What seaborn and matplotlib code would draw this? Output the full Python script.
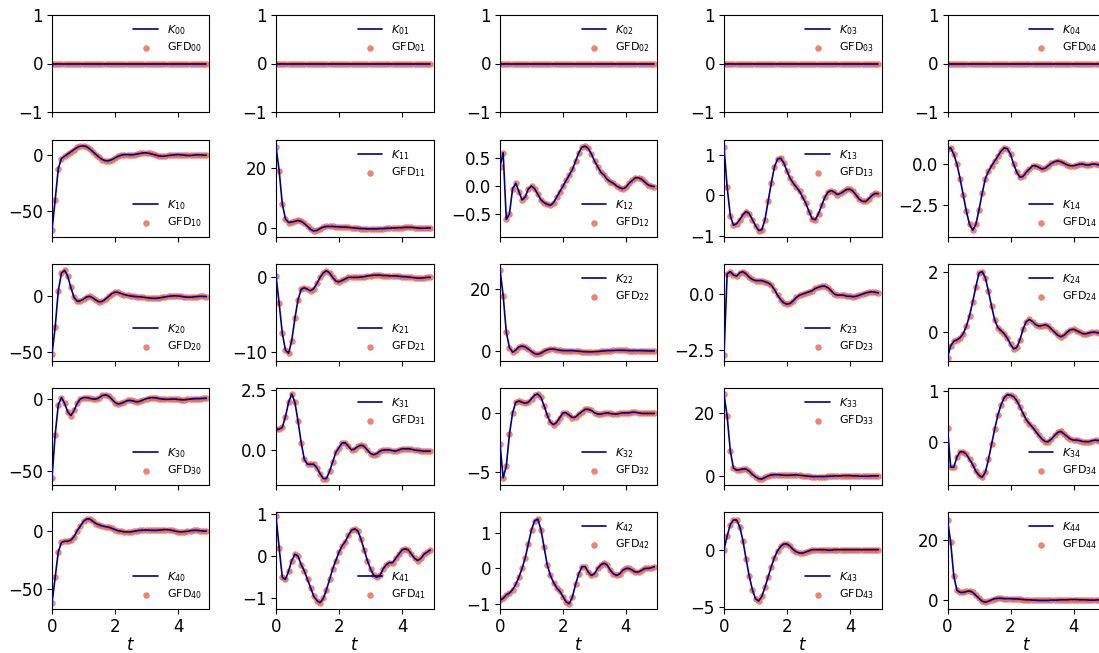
import matplotlib
matplotlib.use("Agg")
import matplotlib.pyplot as plt
import seaborn as sns

sns.set_style("ticks")
plt.rcParams['font.family'] = ['DejaVu Sans']
plt.rcParams['mathtext.fontset'] = 'dejavusans'
plt.rcParams['xtick.labelsize'] = 12
plt.rcParams['ytick.labelsize'] = 12
plt.rcParams['axes.edgecolor'] = 'black'
plt.rcParams['xtick.color'] = 'black'
plt.rcParams['ytick.color'] = 'black'
plt.rcParams['text.color'] = 'black'
plt.rcParams['axes.labelcolor'] = 'black'
plt.rcParams['xtick.major.size'] = 3.5
plt.rcParams['ytick.major.size'] = 3.5
plt.rcParams['xtick.major.pad'] = 3
plt.rcParams['ytick.major.pad'] = 3

# time grid of the GFD samples
t = [0.0, 0.1, 0.2, 0.3, 0.4, 0.5, 0.6, 0.7, 0.8, 0.9,
     1.0, 1.1, 1.2, 1.3, 1.4, 1.5, 1.6, 1.7, 1.8, 1.9,
     2.0, 2.1, 2.2, 2.3, 2.4, 2.5, 2.6, 2.7, 2.8, 2.9,
     3.0, 3.1, 3.2, 3.3, 3.4, 3.5, 3.6, 3.7, 3.8, 3.9,
     4.0, 4.1, 4.2, 4.3, 4.4, 4.5, 4.6, 4.7, 4.8, 4.9]

# first row of the kernel is identically zero
k0x = [0.0, 0.0, 0.0, 0.0, 0.0, 0.0, 0.0, 0.0, 0.0, 0.0,
       0.0, 0.0, 0.0, 0.0, 0.0, 0.0, 0.0, 0.0, 0.0, 0.0,
       0.0, 0.0, 0.0, 0.0, 0.0, 0.0, 0.0, 0.0, 0.0, 0.0,
       0.0, 0.0, 0.0, 0.0, 0.0, 0.0, 0.0, 0.0, 0.0, 0.0,
       0.0, 0.0, 0.0, 0.0, 0.0, 0.0, 0.0, 0.0, 0.0, 0.0]

k10 = [-67, -40, -12, -3, -1, 1, 3, 5, 7, 8,
       8.3, 7.5, 5.5, 3, 0.5, -2, -4, -5, -5, -4,
       -2.5, -1, 0, 0.5, 0.5, 0.3, 0.5, 1, 1.5, 2,
       2, 1.5, 0.8, 0, -0.8, -1, -0.8, -0.3, 0, 0.3,
       0.5, 0.3, 0, -0.3, -0.3, 0, 0.3, 0.3, 0, 0]
k11 = [27, 19, 8, 3, 1.8, 2, 2.2, 2.5, 2.2, 1.5,
       0.5, -0.5, -1.0, -0.8, -0.2, 0.3, 0.5, 0.5, 0.5, 0.4,
       0.4, 0.3, 0.3, 0.2, 0.1, 0.0, -0.1, -0.2, -0.2, -0.3,
       -0.3, -0.3, -0.3, -0.2, -0.2, -0.1, -0.1, 0.0, 0.0, 0.1,
       0.1, 0.2, 0.2, 0.2, 0.1, 0.0, -0.1, -0.1, 0.0, 0.0]
k12 = [0.35, 0.6, -0.6, -0.5, -0.05, 0.05, -0.1, -0.25, -0.2, -0.05,
       0.0, -0.05, -0.15, -0.25, -0.3, -0.33, -0.35, -0.3, -0.2, -0.1,
       0.0, 0.1, 0.2, 0.3, 0.45, 0.6, 0.7, 0.72, 0.68, 0.58,
       0.45, 0.35, 0.25, 0.2, 0.12, 0.08, 0.05, 0.0, -0.03, -0.05,
       -0.02, 0.05, 0.1, 0.15, 0.15, 0.12, 0.07, 0.02, 0.0, -0.01]
k13 = [1.2, 0.2, -0.5, -0.74, -0.7, -0.6, -0.48, -0.4, -0.45, -0.6,
       -0.75, -0.87, -0.85, -0.6, -0.15, 0.3, 0.7, 0.9, 0.92, 0.8,
       0.6, 0.42, 0.3, 0.2, 0.1, -0.05, -0.2, -0.4, -0.58, -0.6,
       -0.45, -0.25, -0.05, 0.08, 0.12, 0.08, 0.02, 0.05, 0.1, 0.15,
       0.15, 0.1, 0.0, -0.1, -0.15, -0.15, -0.08, 0.0, 0.05, 0.04]
k14 = [0.9, 1.0, 0.6, 0.0, -0.9, -1.9, -2.9, -3.7, -4.05, -3.7,
       -2.8, -1.8, -0.9, -0.45, -0.1, 0.2, 0.5, 0.8, 1.0, 0.95,
       0.6, 0.0, -0.5, -0.8, -0.75, -0.5, -0.3, -0.1, -0.1, -0.2,
       -0.3, -0.25, -0.1, 0.05, 0.15, 0.2, 0.15, 0.05, -0.05, -0.1,
       -0.1, -0.05, 0.0, 0.0, -0.05, -0.05, 0.0, 0.0, -0.05, -0.05]

k20 = [-52, -28, 5, 21, 23.5, 18, 8, -1, -4.5, -4,
       -2.5, -0.5, 0, -1.5, -3.5, -5, -4.5, -2.5, 0, 2.5,
       3.8, 3.5, 2.5, 1.5, 0.8, 0.3, 0, -0.3, -0.5, -0.8,
       -1.2, -1.5, -1.8, -1.8, -1.5, -1, -0.5, 0, 0.3, 0.5,
       0.3, 0, -0.5, -0.8, -0.8, -0.5, -0.2, 0, 0, -0.3]
k21 = [0.2, -3.5, -7.5, -9.8, -10.2, -8.5, -5.5, -3, -1.6, -1.4,
       -1.6, -1.8, -1.5, -0.8, 0.0, 0.6, 0.9, 0.6, 0.0, -0.5,
       -0.6, -0.4, -0.2, 0.0, 0.0, 0.0, 0.0, 0.05, 0.1, 0.2,
       0.25, 0.3, 0.3, 0.3, 0.25, 0.25, 0.2, 0.2, 0.2, 0.15,
       0.1, 0.1, 0.05, 0.0, -0.05, -0.1, -0.1, -0.05, 0.0, 0.0]
k22 = [26.5, 18, 6, 1, -0.5, 0.2, 1.2, 1.5, 1.2, 0.5,
       -0.3, -1, -1.2, -0.8, -0.2, 0.3, 0.5, 0.5, 0.3, 0.1,
       0.0, 0.0, 0.0, 0.0, -0.1, -0.2, -0.3, -0.35, -0.4, -0.4,
       -0.35, -0.3, -0.2, -0.1, 0.0, 0.0, 0.05, 0.1, 0.1, 0.1,
       0.05, 0.0, 0.0, 0.0, 0.0, 0.0, -0.05, -0.1, -0.1, -0.1]
k23 = [-2.7, 0.9, 1.0, 0.85, 0.8, 0.95, 1.0, 0.9, 0.75, 0.65,
       0.6, 0.6, 0.6, 0.55, 0.5, 0.4, 0.2, -0.05, -0.25, -0.4,
       -0.45, -0.42, -0.3, -0.15, -0.05, 0.0, 0.05, 0.1, 0.15, 0.25,
       0.3, 0.35, 0.35, 0.28, 0.15, 0.0, -0.05, -0.05, -0.05, -0.1,
       -0.1, -0.12, -0.1, -0.05, 0.0, 0.05, 0.08, 0.1, 0.08, 0.05]
k24 = [-0.85, -0.45, -0.3, -0.25, -0.18, -0.05, 0.2, 0.55, 1.0, 1.5,
       1.95, 2.0, 1.8, 1.35, 0.85, 0.4, 0.15, 0.05, -0.05, -0.2,
       -0.4, -0.55, -0.5, -0.25, 0.1, 0.35, 0.42, 0.35, 0.25, 0.2,
       0.22, 0.25, 0.2, 0.1, 0.0, -0.1, -0.15, -0.1, 0.0, 0.08,
       0.1, 0.05, 0.0, -0.05, -0.05, -0.02, 0.0, 0.0, -0.03, -0.05]

k30 = [-55, -25, -4, 1, -3, -9, -11.5, -8, -3, 0,
       1, 1, 0.5, 0, 0, 1, 2.5, 3, 2, 0,
       -2.5, -3.5, -3, -2, -1, -1, -1.5, -2, -1.5, -0.5,
       0.3, 0.8, 1, 0.8, 0.3, 0, -0.2, -0.2, 0, 0,
       -0.3, -0.5, -0.5, -0.3, 0, 0.2, 0.3, 0.3, 0.5, 0.5]
k31 = [0.87, 0.87, 0.95, 1.4, 2.0, 2.35, 2.0, 1.2, 0.3, -0.4,
       -0.6, -0.6, -0.6, -0.75, -1.0, -1.2, -1.2, -0.9, -0.5, -0.1,
       0.1, 0.3, 0.3, 0.15, 0.0, 0.05, 0.15, 0.2, 0.15, 0.0,
       -0.15, -0.2, -0.15, -0.05, 0.0, 0.0, 0.0, -0.03, -0.05, 0.0,
       0.05, 0.05, 0.05, 0.03, 0.0, -0.02, -0.03, -0.05, -0.05, -0.05]
k32 = [-2.6, -5.5, -4.5, -1.8, 0.0, 0.9, 1.0, 0.9, 0.8, 0.9,
       1.2, 1.5, 1.6, 1.3, 0.6, -0.2, -0.8, -1.0, -0.8, -0.4,
       0.0, 0.0, -0.2, -0.4, -0.35, -0.1, 0.1, 0.3, 0.3, 0.2,
       0.0, -0.1, -0.1, -0.05, 0.0, -0.05, -0.1, -0.1, -0.05, 0.0,
       0.0, 0.0, 0.05, 0.05, 0.0, -0.05, -0.05, -0.05, -0.05, -0.05]
k33 = [26, 19, 8, 2.5, 1.8, 2.0, 2.2, 2.2, 1.5, 0.5,
       -0.3, -0.9, -1.0, -0.5, 0.0, 0.3, 0.4, 0.4, 0.3, 0.2,
       0.2, 0.2, 0.3, 0.3, 0.2, 0.1, 0.0, -0.1, -0.2, -0.2,
       -0.2, -0.2, -0.2, -0.1, -0.1, 0.0, 0.0, 0.0, 0.1, 0.1,
       0.1, 0.0, 0.0, -0.1, -0.1, -0.1, -0.1, 0.0, 0.0, 0.0]
k34 = [0.27, -0.5, -0.5, -0.3, -0.2, -0.2, -0.25, -0.35, -0.45, -0.58,
       -0.66, -0.7, -0.6, -0.35, -0.05, 0.25, 0.52, 0.72, 0.86, 0.92,
       0.91, 0.88, 0.8, 0.68, 0.55, 0.43, 0.35, 0.28, 0.2, 0.12,
       0.05, 0.0, 0.0, 0.05, 0.12, 0.18, 0.2, 0.15, 0.1, 0.05,
       0.03, 0.03, 0.02, 0.0, 0.0, 0.0, 0.02, 0.03, 0.02, 0.0]

k40 = [-62, -40, -18, -10, -9, -9, -8, -5, 0, 4,
       8, 10, 10, 8, 6, 5, 4, 3.5, 3, 2,
       1, 0, -0.5, -1, -1, -1, -0.5, 0, 0.3, 0.5,
       0.5, 0.5, 0.3, 0.3, 0.5, 0.8, 1, 0.8, 0.3, -0.3,
       -0.8, -1, -0.8, -0.5, 0, 0.3, 0.3, 0, -0.3, -0.3]
k41 = [0.95, 0.2, -0.5, -0.55, -0.35, -0.1, 0.05, 0.0, -0.2, -0.35,
       -0.55, -0.75, -0.95, -1.05, -1.1, -1.0, -0.8, -0.55, -0.3, -0.1,
       0.1, 0.25, 0.35, 0.5, 0.62, 0.65, 0.6, 0.4, 0.15, -0.1,
       -0.3, -0.45, -0.5, -0.45, -0.3, -0.2, -0.15, -0.15, -0.05, 0.05,
       0.15, 0.18, 0.15, 0.05, -0.05, -0.1, -0.05, 0.05, 0.1, 0.15]
k42 = [-0.9, -0.85, -0.75, -0.7, -0.6, -0.45, -0.25, 0.0, 0.3, 0.7,
       1.1, 1.35, 1.4, 1.1, 0.6, 0.1, -0.2, -0.4, -0.55, -0.65,
       -0.8, -0.95, -1.0, -0.8, -0.45, -0.15, 0.05, 0.05, -0.1, -0.2,
       -0.15, 0.0, 0.1, 0.15, 0.1, -0.05, -0.15, -0.2, -0.15, -0.05,
       0.0, 0.0, -0.05, -0.1, -0.1, -0.05, 0.0, 0.0, 0.02, 0.05]
k43 = [0.0, 1.2, 2.2, 2.6, 2.6, 2.0, 0.8, -0.8, -2.3, -3.5,
       -4.3, -4.5, -4.1, -3.3, -2.4, -1.5, -0.7, -0.1, 0.3, 0.5,
       0.5, 0.3, 0.0, -0.2, -0.3, -0.3, -0.2, -0.1, 0.0, 0.0,
       0.0, 0.0, 0.0, -0.05, -0.05, 0.0, 0.0, 0.0, 0.0, 0.0,
       0.0, 0.0, 0.0, 0.0, 0.0, 0.0, 0.0, 0.0, 0.0, 0.0]
k44 = [27, 19.5, 8, 3.2, 2.5, 2.5, 2.8, 3.0, 2.5, 1.5,
       0.5, -0.5, -0.8, -0.5, 0.0, 0.4, 0.5, 0.5, 0.4, 0.4,
       0.4, 0.3, 0.3, 0.2, 0.1, 0.0, 0.0, -0.1, -0.1, -0.2,
       -0.2, -0.2, -0.2, -0.1, -0.1, -0.1, 0.0, 0.0, 0.0, 0.1,
       0.1, 0.1, 0.0, 0.0, 0.0, -0.1, -0.1, -0.1, 0.0, 0.0]

kernel = [[k0x, k0x, k0x, k0x, k0x],
          [k10, k11, k12, k13, k14],
          [k20, k21, k22, k23, k24],
          [k30, k31, k32, k33, k34],
          [k40, k41, k42, k43, k44]]

ylims = [[(-1, 1)] * 5,
         [(-73, 13.5), (-3, 29.2), (-0.92, 0.83), (-1.03, 1.37), (-4.47, 1.48)],
         [(-58.4, 29.2), (-11.25, 1.8), (-3.4, 28.3), (-2.99, 1.34), (-0.95, 2.25)],
         [(-60, 7.7), (-1.47, 2.6), (-6.1, 2.1), (-2.9, 28), (-0.85, 1.05)],
         [(-67, 16), (-1.25, 1.05), (-1.15, 1.6), (-5.2, 3.3), (-3.1, 29.6)]]

legend_loc = [['upper right'] * 5,
              ['lower right', 'upper right', 'lower right', 'upper right', 'lower right'],
              ['lower right', 'lower right', 'upper right', 'lower right', 'upper right'],
              ['lower right', 'upper right', 'lower right', 'upper right', 'lower right'],
              ['lower right', 'lower right', 'upper right', 'lower right', 'upper right']]

line_color = '#00008b'
dot_color = '#e8654f'

fig = plt.figure(figsize=(10.99, 6.53), dpi=100)
W, H = 1099.0, 653.0
col_left = [52, 276, 500, 724, 947.5]
row_top = [15, 140, 264, 388, 512]
aw, ah = 157.5, 97

for i in range(5):
    for j in range(5):
        ax = fig.add_axes([col_left[j] / W, 1 - (row_top[i] + ah) / H, aw / W, ah / H])
        vals = kernel[i][j]
        sns.scatterplot(x=t, y=vals, ax=ax, color=dot_color, s=22, alpha=0.8,
                        linewidth=0, label=f'GFD$_{{{i}{j}}}$', zorder=2)
        sns.lineplot(x=t, y=vals, ax=ax, color=line_color, lw=1.2,
                     label=f'$K_{{{i}{j}}}$', zorder=3)
        ax.set_xlim(0, 5)
        ax.set_ylim(*ylims[i][j])
        ax.set_xticks([0, 2, 4])
        if i < 4:
            ax.set_xticklabels([])
        else:
            ax.set_xlabel('$t$', fontsize=12, labelpad=0)
        for s in ax.spines.values():
            s.set_linewidth(0.8)
        h, l = ax.get_legend_handles_labels()
        ax.legend([h[1], h[0]], [l[1], l[0]], loc=legend_loc[i][j], frameon=False,
                  fontsize=8, handlelength=2.2, borderaxespad=0.3, labelspacing=0.35)

fig.savefig('out.png', dpi=100)
